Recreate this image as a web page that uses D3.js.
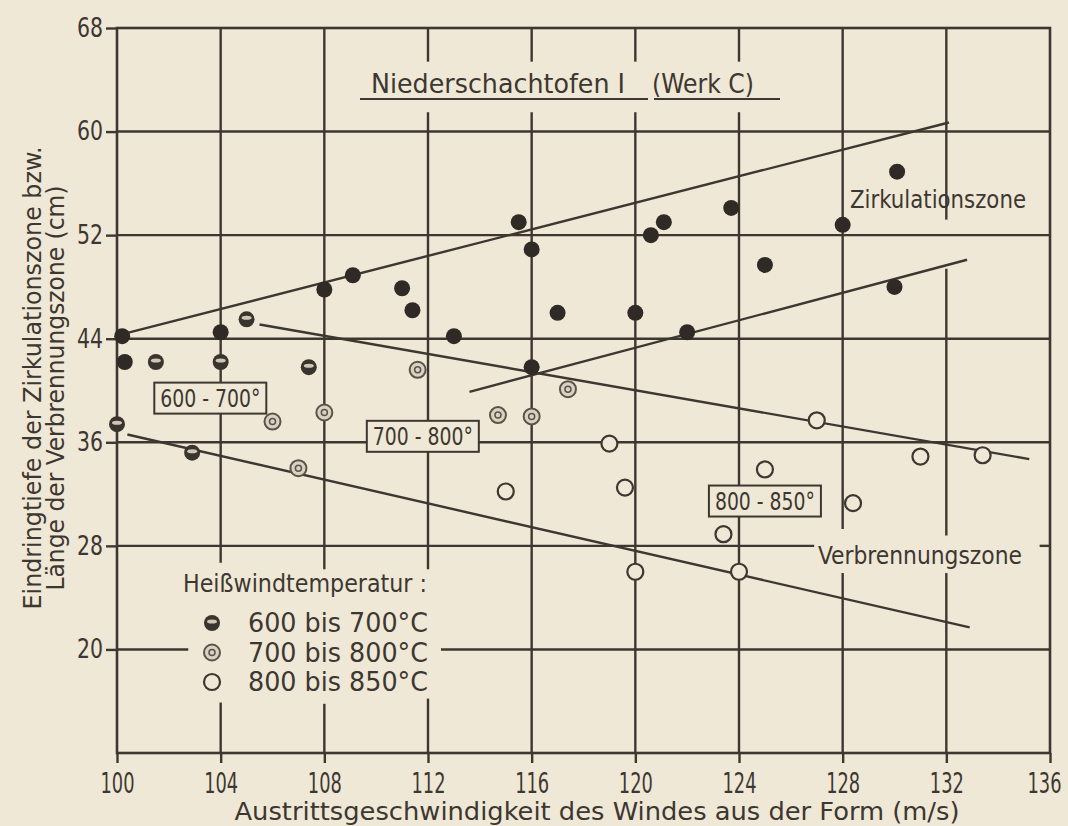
<!DOCTYPE html>
<html>
<head>
<meta charset="utf-8">
<script src="https://cdn.jsdelivr.net/npm/d3@7/dist/d3.min.js"></script>
<style>
  body { margin: 0; background: #efe8d6; }
  svg { display: block; }
  text { font-family: "Liberation Sans Narrow", "DejaVu Sans Condensed", "Open Sans", sans-serif; fill: #3d3731; }
</style>
</head>
<body>
<svg id="chart" width="1068" height="826"></svg>
<script>
const xTicks = [100, 104, 108, 112, 116, 120, 124, 128, 132, 136];
const yTicks = [20, 28, 36, 44, 52, 60, 68];

// Zirkulationszone (filled dots)
const zirkPts = [
    [100.2, 44.2], [100.3, 42.2], [104.0, 44.5], [108.0, 47.8], [109.1, 48.9],
    [111.0, 47.9], [111.4, 46.2], [113.0, 44.2], [115.5, 53.0], [116.0, 50.9],
    [116.0, 41.8], [117.0, 46.0], [120.0, 46.0], [120.6, 52.0], [121.1, 53.0],
    [122.0, 44.5], [123.7, 54.1], [125.0, 49.7], [128.0, 52.8], [130.1, 56.9],
    [130.0, 48.0]
];
// Verbrennungszone by hot blast temperature
const verb600 = [[101.5, 42.2], [104.0, 42.2], [107.4, 41.8], [100.0, 37.4], [102.9, 35.2], [105.0, 45.5]];
const verb700 = [[106.0, 37.6], [108.0, 38.3], [107.0, 34.0], [111.6, 41.6], [114.7, 38.1], [116.0, 38.0], [117.4, 40.1]];
const verb800 = [[119.0, 35.9], [115.0, 32.2], [119.6, 32.5], [127.0, 37.7], [125.0, 33.9], [131.0, 34.9],
    [133.4, 35.0], [128.4, 31.3], [123.4, 28.9], [120.0, 26.0], [124.0, 26.0]];

const trendLines = [
    [[100.1, 44.3], [132.1, 60.7]],
    [[113.6, 39.9], [132.8, 50.1]],
    [[105.5, 45.1], [135.2, 34.7]],
    [[100.4, 36.6], [132.9, 21.7]]
];
const rangeLabels = [
    { text: "600 - 700°", x: 103.6, y: 39.45 },
    { text: "700 - 800°", x: 111.8, y: 36.5 },
    { text: "800 - 850°", x: 125.0, y: 31.5 }
];
const legendItems = [
    { kind: "half", text: "600  bis  700°C" },
    { kind: "dot", text: "700  bis  800°C" },
    { kind: "open", text: "800  bis  850°C" }
];

const ink = "#3d3731", bg = "#efe8d6";
const svg = d3.select("#chart");
const x = d3.scaleLinear().domain([100, 136]).range([117, 1050]);
const y = d3.scaleLinear().domain([12, 68]).range([753, 28]);

// squeeze glyphs to look like the narrow drafting lettering
const narrow = (sel, w) => sel.attr("textLength", w).attr("lengthAdjust", "spacingAndGlyphs");

// grid, with gaps where text sits (in data units)
const vGaps = {
    104: [[15.9, 26.7]], 108: [[15.8, 26.2]], 112: [[16.2, 26.2], [61.5, 65.4]],
    116: [[61.5, 65.4]], 120: [[61.5, 65.4]], 124: [[61.5, 65.4]],
    128: [[25.9, 29.3]], 132: [[25.9, 28.8], [49.4, 53.2]]
};
const hGaps = { 20: [[102.75, 112.5]], 28: [[126.9, 135.6]] };

function segs(lo, hi, gaps) {
    let out = [], s = lo;
    (gaps || []).forEach(g => { out.push([s, g[0]]); s = g[1]; });
    out.push([s, hi]);
    return out;
}
const grid = svg.append("g").attr("stroke", ink).attr("stroke-width", 2.4);
xTicks.slice(1, -1).forEach(t => {
    segs(12, 68, vGaps[t]).forEach(s => grid.append("line")
        .attr("x1", x(t)).attr("x2", x(t)).attr("y1", y(s[0])).attr("y2", y(s[1])));
});
yTicks.slice(0, -1).forEach(t => {
    segs(100, 136, hGaps[t]).forEach(s => grid.append("line")
        .attr("x1", x(s[0])).attr("x2", x(s[1])).attr("y1", y(t)).attr("y2", y(t)));
});
svg.append("rect").attr("x", x(100)).attr("y", y(68)).attr("width", x(136) - x(100)).attr("height", y(12) - y(68))
    .attr("fill", "none").attr("stroke", ink).attr("stroke-width", 2.6);

// axes
const xAxis = svg.append("g").attr("transform", `translate(0,${y(12)})`)
    .call(d3.axisBottom(x).tickValues(xTicks).tickSize(10).tickPadding(5));
const yAxis = svg.append("g").attr("transform", `translate(${x(100)},0)`)
    .call(d3.axisLeft(y).tickValues(yTicks).tickSize(11).tickPadding(3));
[xAxis, yAxis].forEach(a => {
    a.select(".domain").remove();
    a.selectAll(".tick line").attr("stroke", ink).attr("stroke-width", 2.4);
});
xAxis.selectAll(".tick text").attr("font-size", 28).attr("fill", ink).attr("dy", "0.9em")
    .each(function (d) { narrow(d3.select(this), 34); });
// last label sits at the page edge
xAxis.selectAll(".tick text").filter(d => d === 136).attr("text-anchor", "end").attr("x", 11);
yAxis.selectAll(".tick text").attr("font-size", 26).attr("fill", ink)
    .each(function (d) { narrow(d3.select(this), 26); });

// trend lines
const line = d3.line().x(d => x(d[0])).y(d => y(d[1]));
svg.append("g").selectAll("path").data(trendLines).join("path")
    .attr("d", line).attr("fill", "none").attr("stroke", ink).attr("stroke-width", 2.4);

// markers
function marker(g, kind, cx, cy) {
    if (kind === "filled") {
        g.append("circle").attr("cx", cx).attr("cy", cy).attr("r", 8).attr("fill", "#2f2a25");
    } else if (kind === "half") {
        g.append("circle").attr("cx", cx).attr("cy", cy).attr("r", 8).attr("fill", "#3a342e");
        g.append("ellipse").attr("cx", cx).attr("cy", cy - 1.5).attr("rx", 5).attr("ry", 2)
            .attr("fill", "#cfc7b6");
    } else if (kind === "dot") {
        g.append("circle").attr("cx", cx).attr("cy", cy).attr("r", 8).attr("fill", "#d9d2c2")
            .attr("stroke", "#5a534a").attr("stroke-width", 2);
        g.append("circle").attr("cx", cx).attr("cy", cy).attr("r", 3).attr("fill", "none")
            .attr("stroke", "#5a534a").attr("stroke-width", 1.5);
    } else {
        g.append("circle").attr("cx", cx).attr("cy", cy).attr("r", 8).attr("fill", bg)
            .attr("stroke", ink).attr("stroke-width", 2.2);
    }
}
const pts = svg.append("g");
zirkPts.forEach(d => marker(pts, "filled", x(d[0]), y(d[1])));
verb600.forEach(d => marker(pts, "half", x(d[0]), y(d[1])));
verb700.forEach(d => marker(pts, "dot", x(d[0]), y(d[1])));
verb800.forEach(d => marker(pts, "open", x(d[0]), y(d[1])));

// boxed range labels
rangeLabels.forEach(r => {
    const g = svg.append("g");
    const t = g.append("text").attr("x", x(r.x)).attr("y", y(r.y)).attr("text-anchor", "middle")
        .attr("dy", "0.36em").attr("font-size", 25).text(r.text);
    narrow(t, 100);
    const b = t.node().getBBox();
    g.insert("rect", "text").attr("x", b.x - 6).attr("y", b.y - 1).attr("width", b.width + 12).attr("height", b.height + 2)
        .attr("fill", bg).attr("stroke", ink).attr("stroke-width", 2);
});

// zone labels
narrow(svg.append("text").attr("x", 850).attr("y", 208).attr("font-size", 25).text("Zirkulationszone"), 176);
narrow(svg.append("text").attr("x", 818).attr("y", 564).attr("font-size", 25).text("Verbrennungszone"), 204);

// title
narrow(svg.append("text").attr("x", 371).attr("y", 93).attr("font-size", 27).text("Niederschachtofen  Ⅰ"), 254);
narrow(svg.append("text").attr("x", 652).attr("y", 93).attr("font-size", 27).text("(Werk C)"), 102);
svg.append("line").attr("x1", 360).attr("x2", 648).attr("y1", 99).attr("y2", 99).attr("stroke", ink).attr("stroke-width", 2);
svg.append("line").attr("x1", 654).attr("x2", 780).attr("y1", 99).attr("y2", 99).attr("stroke", ink).attr("stroke-width", 2);

// legend
narrow(svg.append("text").attr("x", 183).attr("y", 592).attr("font-size", 25).text("Heißwindtemperatur :"), 244);
legendItems.forEach((d, i) => {
    const cy = 623 + i * 29.5;
    marker(svg, d.kind, 212, cy);
    narrow(svg.append("text").attr("x", 248).attr("y", cy).attr("dy", "0.36em").attr("font-size", 26).text(d.text), 180);
});

// axis titles
narrow(svg.append("text").attr("x", 597).attr("y", 820).attr("text-anchor", "middle").attr("font-size", 24)
    .text("Austrittsgeschwindigkeit des Windes aus der Form (m/s)"), 725);
narrow(svg.append("text").attr("transform", "translate(41,378) rotate(-90)").attr("text-anchor", "middle").attr("font-size", 24)
    .text("Eindringtiefe der  Zirkulationszone  bzw."), 463);
narrow(svg.append("text").attr("transform", "translate(64,388) rotate(-90)").attr("text-anchor", "middle").attr("font-size", 24)
    .text("Länge der Verbrennungszone (cm)"), 405);
</script>
</body>
</html>
